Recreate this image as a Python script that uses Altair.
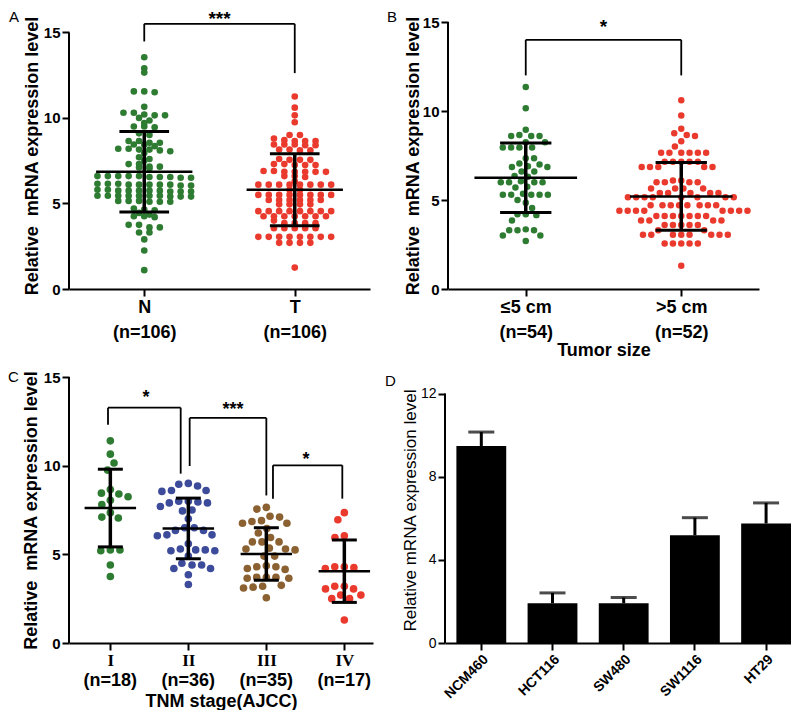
import altair as alt
import pandas as pd

FONT = "Liberation Sans"
SERIF = "Liberation Serif"

# ---------------- data ----------------
# Panel A
A_groups = ["N", "T"]
A_counts = ["(n=106)", "(n=106)"]
A_N = [13.55, 12.9, 12.65, 11.55, 11.5, 11.55, 10.65,
       10.3, 10.15, 10.15, 10.2, 10.3, 10.0, 9.85, 9.7,
       9.5, 9.45, 9.5, 9.1, 9.0,
       8.65, 8.55, 8.45, 8.35, 8.45, 8.55, 8.65,
       8.2, 8.1, 8.15, 8.15, 8.2, 8.05, 7.95,
       7.7, 7.6, 7.5,
       7.3, 7.15, 7.15, 7.05, 7.1, 7.3,
       6.6, 6.55, 6.6, 6.5, 6.6, 6.55, 6.6, 6.5, 6.6, 6.55,
       6.1, 6.15, 6.1, 6.05, 6.1, 6.15, 6.1, 6.05, 6.1, 6.15,
       5.75, 5.7, 5.75, 5.8, 5.75, 5.7, 5.75, 5.8, 5.75, 5.7,
       5.45, 5.4, 5.45, 5.45, 5.4, 5.45, 5.45, 5.4, 5.45, 5.45,
       5.15, 5.1, 5.15, 5.1, 5.15, 5.1,
       4.65, 4.45, 4.6, 4.7,
       4.25, 4.2, 4.25, 4.35,
       3.75, 3.6, 3.6, 3.75,
       3.3, 3.3, 2.9, 2.25, 1.1]
A_T = [11.25, 10.6, 10.15, 9.75, 9.0, 9.0,
       8.7, 8.65, 8.65, 8.65, 8.8,
       8.4, 8.45, 8.45, 8.4, 8.45,
       8.15, 8.1, 8.1, 8.15,
       7.55, 7.55, 7.6, 7.55,
       7.25, 7.3, 7.25, 7.3, 7.25,
       6.85, 6.9, 6.85, 6.85, 6.9, 6.85, 6.85,
       6.6, 6.55, 6.6, 6.3,
       6.1, 6.1, 6.1, 6.1, 6.1, 6.1, 6.1, 6.1,
       5.8, 5.8,
       5.5, 5.5, 5.5, 5.5, 5.5, 5.5, 5.5, 5.5,
       5.2, 5.2, 5.2, 5.2, 5.2, 5.2,
       4.95, 4.95, 4.95, 4.95,
       4.55, 4.55, 4.55, 4.55, 4.55, 4.55, 4.55, 4.55,
       4.25, 4.25, 4.25, 4.25, 4.25, 4.25, 4.25, 4.0,
       3.85, 3.85, 3.85, 3.85,
       3.55, 3.55, 3.55, 3.55, 3.55,
       3.05, 3.05, 3.05, 3.05, 3.05, 3.05, 3.05, 3.05,
       2.7, 2.7, 2.7, 2.7,
       1.25]
A_mean = [6.85, 5.8]
A_sd = [2.35, 2.1]
A_sig = ["***"]

# Panel B
B_groups = ["\u22645 cm", ">5 cm"]
B_counts = ["(n=54)", "(n=52)"]
B_le = [11.35, 10.15, 8.95,
        8.6, 8.6, 8.65, 8.6,
        8.25, 8.25,
        7.95, 7.95, 7.95, 7.95,
        7.35, 7.35,
        7.0, 7.05,
        6.85, 6.9, 6.85,
        6.6, 6.6,
        6.35, 6.3,
        6.0, 6.0, 6.0, 6.0, 6.05,
        5.7, 5.75,
        5.3, 5.3, 5.3, 5.35, 5.3, 5.3,
        5.0, 4.85,
        4.55,
        4.2, 4.15, 4.2,
        3.85,
        3.35, 3.3, 3.3, 3.3,
        3.0, 3.0,
        2.7]
B_gt = [10.6, 9.75, 9.0, 8.75, 8.6, 8.65, 8.3, 8.0,
        7.65, 7.65, 7.65, 7.65, 7.65, 7.65,
        7.15, 7.15, 7.15, 7.15, 7.15,
        6.85, 6.85, 6.85, 6.85, 6.85,
        6.1, 6.1,
        6.0, 6.0, 6.0, 6.0,
        5.65, 5.65, 5.65, 5.65,
        5.4, 5.4, 5.4, 5.4, 5.4,
        5.15, 5.15, 5.15, 5.15, 5.15, 5.15, 5.15, 5.15,
        4.7, 4.7, 4.7, 4.7, 4.7, 4.7, 4.7, 4.7,
        4.4, 4.4, 4.4, 4.4, 4.4, 4.4, 4.4, 4.4,
        4.1, 4.1, 4.1, 4.1, 4.1, 4.1, 4.1,
        3.85, 3.85, 3.85, 3.85,
        3.6, 3.6, 3.6, 3.6, 3.6,
        3.3, 3.3,
        3.05, 3.05, 3.05, 3.05, 3.05, 3.05, 3.05, 3.05,
        2.55, 2.55, 2.55, 2.55, 2.55,
        1.3]
B_mean = [6.25, 5.2]
B_sd = [1.95, 1.9]
B_sig = ["*"]

# Panel C
C_groups = ["I", "II", "III", "IV"]
C_counts = ["(n=18)", "(n=36)", "(n=35)", "(n=17)"]
C_I = [11.4, 10.65, 10.15, 9.75, 8.45, 8.25, 8.4, 8.65, 8.05, 7.8,
       7.35, 7.1, 7.05, 5.25, 5.25, 5.2, 4.4, 3.75]
C_II = [9.0, 8.95, 8.85, 8.6, 8.55, 8.6,
        8.0, 7.95, 7.9, 8.0, 7.9,
        7.7, 7.5, 7.45,
        7.0,
        6.5, 6.35, 6.35, 6.5,
        6.1, 6.05, 6.1,
        5.6,
        5.25, 5.2, 5.25, 5.2, 5.3,
        4.9,
        4.4, 4.2, 4.2, 4.4, 4.5,
        3.85, 3.3]
C_III = [7.65, 7.55,
         7.1, 6.9, 6.75, 6.75, 6.85, 7.15,
         6.45, 6.2, 5.95,
         5.7, 5.7, 5.7,
         5.3, 5.35, 5.25, 5.3,
         4.9, 4.9,
         4.35, 4.3, 4.3,
         4.15, 4.2,
         3.7, 3.65, 3.7, 3.65, 3.7,
         3.25, 3.2, 3.1, 3.15,
         2.55]
C_IV = [7.35, 6.95, 6.05, 5.95, 4.3, 4.3, 4.2, 4.25,
        3.2, 3.2, 3.05, 3.05, 2.7, 2.7, 2.5, 2.5, 1.3]
C_mean = [7.61, 6.46, 5.02, 4.05]
C_sd = [2.19, 1.71, 1.48, 1.76]
C_sig = ["*", "***", "*"]

# Panel D
D_cells = ["NCM460", "HCT116", "SW480", "SW1116", "HT29"]
D_mean = [9.48, 1.91, 1.91, 5.18, 5.75]
D_sd = [0.67, 0.50, 0.28, 0.85, 0.99]

YTITLE = "Relative\u00a0 mRNA expression level"

GREEN = "#2e7b32"
RED = "#ea3a2e"
BLUE = "#3d4b9b"
BROWN = "#8b6131"


# ---------------- layout helpers ----------------
def swarm_offsets(vals, pxy, pxx, d):
    """Beeswarm layout: x offsets (data units) so that dots of diameter d px do not overlap."""
    order = sorted(range(len(vals)), key=lambda i: -vals[i])
    placed = []
    off = [0.0] * len(vals)
    for k, i in enumerate(order):
        y = vals[i] * pxy
        cands = [0.0]
        for (px, py) in placed:
            dy = abs(py - y)
            if dy < d:
                dx = (d * d - dy * dy) ** 0.5
                cands.extend([px + dx, px - dx])
        sgn = 1 if k % 2 else -1
        cands.sort(key=lambda c: (round(abs(c), 6), sgn * c))
        chosen = 0.0
        for c in cands:
            if all((c - px) ** 2 + (y - py) ** 2 >= d * d - 1e-6 for px, py in placed):
                chosen = c
                break
        placed.append((chosen, y))
        off[i] = chosen / pxx
    return off


def row_offsets(vals, h, s):
    """Prism-like rows: values within h of a row's first value share a row, centred."""
    order = sorted(range(len(vals)), key=lambda i: -vals[i])
    rows, cur, start = [], [], None
    for i in order:
        if start is None or vals[i] <= start - h + 1e-9:
            if cur:
                rows.append(cur)
            cur, start = [i], vals[i]
        else:
            cur.append(i)
    rows.append(cur)
    off = [0.0] * len(vals)
    for r in rows:
        m = len(r)
        for k, i in enumerate(r):
            off[i] = (k - (m - 1) / 2) * s
    return off


def points_frame(groups, series, pos, layout):
    rows = []
    for g, vals, p in zip(groups, series, pos):
        for v, o in zip(vals, layout(vals)):
            rows.append({"g": g, "x": p + o, "y": v})
    return pd.DataFrame(rows)


def stats_frame(pos, mean, sd, mhw, chw):
    return pd.DataFrame({
        "pos": pos, "mean": mean,
        "lo": [m - s for m, s in zip(mean, sd)],
        "hi": [m + s for m, s in zip(mean, sd)],
        "ml": [p - mhw for p in pos], "mr": [p + mhw for p in pos],
        "cl": [p - chw for p in pos], "cr": [p + chw for p in pos],
    })


def bracket_frames(brackets, sigs):
    segs, stars = [], []
    for b, s in zip(brackets, sigs):
        x1, x2, top, yl, yr, sx, sy = b
        segs.append({"x": x1, "x2": x2, "y": top, "y2": top})
        segs.append({"x": x1, "x2": x1, "y": yl, "y2": top})
        segs.append({"x": x2, "x2": x2, "y": yr, "y2": top})
        stars.append({"x": sx, "y": sy, "t": s})
    return pd.DataFrame(segs), pd.DataFrame(stars)


def label_expr(pos, lines):
    parts = []
    for p, ls in zip(pos, lines):
        arr = ", ".join("'" + l + "'" for l in ls)
        parts.append(f"datum.value == {p} ? [{arr}]")
    return " : ".join(parts) + " : ''"


def scatter_panel(groups, series, colors, pos, mean, sd, xdom, ydom, ytop,
                  width, height, layout, size, mhw, chw,
                  brackets, sigs, star_size, letter, letter_xy,
                  xaxis, yaxis, extra=None):
    X = lambda f: alt.X(f, type="quantitative",
                        scale=alt.Scale(domain=xdom, nice=False, zero=False), axis=xaxis)
    Y = lambda f: alt.Y(f, type="quantitative",
                        scale=alt.Scale(domain=ydom, nice=False, zero=False), axis=yaxis)
    pts = points_frame(groups, series, pos, layout)
    st = stats_frame(pos, mean, sd, mhw, chw)
    segs, stars = bracket_frames(brackets, sigs)

    layers = [
        alt.Chart(pts).mark_circle(size=size, opacity=1).encode(
            x=X("x"), y=Y("y"),
            color=alt.Color("g:N", scale=alt.Scale(domain=groups, range=colors), legend=None)),
        alt.Chart(st).mark_rule(color="black", strokeWidth=2.5).encode(
            x=X("ml"), x2="mr", y=Y("mean")),
        alt.Chart(st).mark_rule(color="black", strokeWidth=3.5).encode(
            x=X("pos"), y=Y("lo"), y2="hi"),
        alt.Chart(st).mark_rule(color="black", strokeWidth=3).encode(
            x=X("cl"), x2="cr", y=Y("hi")),
        alt.Chart(st).mark_rule(color="black", strokeWidth=3).encode(
            x=X("cl"), x2="cr", y=Y("lo")),
        alt.Chart(segs).mark_rule(color="black", strokeWidth=1.8).encode(
            x=X("x"), x2="x2", y=Y("y"), y2="y2"),
        alt.Chart(stars).mark_text(font=FONT, fontWeight="bold", fontSize=star_size,
                                   baseline="alphabetic", align="center", color="black").encode(
            x=X("x"), y=Y("y"), text="t:N"),
        alt.Chart(pd.DataFrame({"x": [xdom[0]], "y": [0], "y2": [ytop]})).mark_rule(
            color="black", strokeWidth=2).encode(x=X("x"), y=Y("y"), y2="y2"),
        alt.Chart(pd.DataFrame({"t": [letter]})).mark_text(
            font=FONT, fontSize=15, align="left", baseline="alphabetic", color="black").encode(
            x=alt.value(letter_xy[0]), y=alt.value(letter_xy[1]), text="t:N"),
    ]
    if extra is not None:
        layers += extra(X, Y)
    return alt.layer(*layers).properties(width=width, height=height)


def x_axis(pos, expr, title=None, font=FONT, size=18, title_pad=0):
    kw = dict(values=pos, labelExpr=expr, labelFont=font, labelFontSize=size,
              labelFontWeight="bold", labelLineHeight=25, labelPadding=2, tickSize=7,
              tickWidth=2, domainWidth=2, grid=False, labelFlush=False, labelOverlap=False,
              titleFontSize=18, titleFontWeight="bold", titlePadding=title_pad)
    return alt.Axis(title=title, **kw)


def y_axis(title_pad):
    return alt.Axis(values=[0, 5, 10, 15], title=YTITLE, domain=False, labelFontSize=15,
                    labelFontWeight="bold", titleFontSize=18, titleFontWeight="bold",
                    titlePadding=title_pad, tickSize=7, tickWidth=2, labelPadding=2, grid=False)


# ---------------- Panel A ----------------
A_pos = [1, 3]
A_height = 267
A_top = 15 * A_height / 256.6
panelA = scatter_panel(
    A_groups, [A_N, A_T], [GREEN, RED], A_pos, A_mean, A_sd,
    xdom=[0, 4], ydom=[0, A_top], ytop=15, width=301, height=A_height,
    layout=lambda v: row_offsets(v, 0.2, 10.4 / (301 / 4)),
    size=44, mhw=0.64, chw=0.33,
    brackets=[(1, 3, 15.5, 14.47, 12.62, 2, 15.43)], sigs=A_sig, star_size=19,
    letter="A", letter_xy=(-60, 0),
    xaxis=x_axis(A_pos, label_expr(A_pos, [[g, n] for g, n in zip(A_groups, A_counts)])),
    yaxis=y_axis(2))

# ---------------- Panel B ----------------
B_pos = [1, 3]
panelB = scatter_panel(
    B_groups, [B_le, B_gt], [GREEN, RED], B_pos, B_mean, B_sd,
    xdom=[0, 4], ydom=[0, 15], ytop=15, width=311, height=267,
    layout=lambda v: swarm_offsets(v, 267 / 15, 311 / 4, 8.3),
    size=42, mhw=0.66, chw=0.33,
    brackets=[(1, 3, 14.0, 12.0, 12.0, 2, 14.37)], sigs=B_sig, star_size=19,
    letter="B", letter_xy=(-61, 0),
    xaxis=x_axis(B_pos, label_expr(B_pos, [[g, n] for g, n in zip(B_groups, B_counts)]),
                 title="Tumor size", title_pad=0),
    yaxis=y_axis(0))

# ---------------- Panel C ----------------
C_pos = [1, 2, 3, 4]
C_height = 266


def c_counts(X, Y):
    df = pd.DataFrame({"pos": C_pos, "n": C_counts})
    return [alt.Chart(df).mark_text(font=FONT, fontSize=18, fontWeight="bold",
                                    baseline="middle", align="center", color="black").encode(
        x=X("pos"), y=alt.value(C_height + 38), text="n:N")]


panelC = scatter_panel(
    C_groups, [C_I, C_II, C_III, C_IV], [GREEN, BLUE, BROWN, RED], C_pos, C_mean, C_sd,
    xdom=[0.47, 0.47 + 304 / 78], ydom=[0, 15], ytop=15, width=304, height=C_height,
    layout=lambda v: swarm_offsets(v, C_height / 15, 78, 9.6),
    size=58, mhw=0.33, chw=0.16,
    brackets=[(0.97, 1.902, 13.27, 12.31, 9.55, 1.457, 13.52),
              (2.017, 3.0, 12.69, 9.98, 8.32, 2.573, 12.86),
              (3.085, 3.974, 10.02, 8.14, 8.14, 3.508, 10.05)],
    sigs=C_sig, star_size=18, letter="C", letter_xy=(-61, 5),
    xaxis=x_axis(C_pos, label_expr(C_pos, [[g] for g in C_groups]),
                 title="TNM stage(AJCC)", font=SERIF, size=17, title_pad=24),
    yaxis=y_axis(3), extra=c_counts)

# ---------------- Panel D ----------------
D_height = 266
D_top = 12 * D_height / 249.4
D_df = pd.DataFrame({"cell": D_cells, "mean": D_mean,
                     "hi": [m + s for m, s in zip(D_mean, D_sd)]})
XD = alt.X("cell:N", sort=D_cells,
           scale=alt.Scale(paddingInner=0.3, paddingOuter=0.08, align=1),
           axis=alt.Axis(title=None, labelAngle=-45, labelFont=FONT, labelFontSize=14,
                         labelFontWeight="bold", tickSize=7, tickWidth=2, domainWidth=2,
                         labelPadding=2, grid=False))


def YD(f):
    return alt.Y(f, type="quantitative", scale=alt.Scale(domain=[0, D_top], nice=False),
                 axis=alt.Axis(values=[0, 4, 8, 12], title="Relative mRNA expression level",
                               domain=False, labelFontSize=14, titleFontSize=17,
                               titleFontWeight="normal", tickSize=7, tickWidth=2,
                               labelPadding=2, titlePadding=1, grid=False))


panelD = alt.layer(
    alt.Chart(D_df).mark_bar(color="black").encode(x=XD, y=YD("mean")),
    alt.Chart(D_df).mark_rule(color="black", strokeWidth=3).encode(x=XD, y=YD("mean"), y2="hi"),
    alt.Chart(D_df).mark_tick(color="black", thickness=3, size=26).encode(x=XD, y=YD("hi")),
    alt.Chart(pd.DataFrame({"y": [0], "y2": [12]})).mark_rule(color="black", strokeWidth=2).encode(
        x=alt.value(0), y=YD("y"), y2="y2"),
    alt.Chart(pd.DataFrame({"t": ["D"]})).mark_text(
        font=FONT, fontSize=15, align="left", baseline="alphabetic", color="black").encode(
        x=alt.value(-60), y=alt.value(9), text="t:N"),
).properties(width=346, height=D_height)

chart = alt.vconcat(
    alt.hconcat(panelA, panelB, spacing=17).resolve_scale(color="independent"),
    alt.hconcat(panelC, panelD, spacing=12).resolve_scale(color="independent"),
    spacing=11,
).resolve_scale(color="independent").properties(
    padding={"left": 0, "top": 2, "right": 0, "bottom": 0}
).configure_view(stroke=None).configure_axis(
    domainColor="black", tickColor="black", labelColor="black", titleColor="black",
    labelFont=FONT, titleFont=FONT)

chart.save("out.html", embed_options={"renderer": "svg", "actions": False})
